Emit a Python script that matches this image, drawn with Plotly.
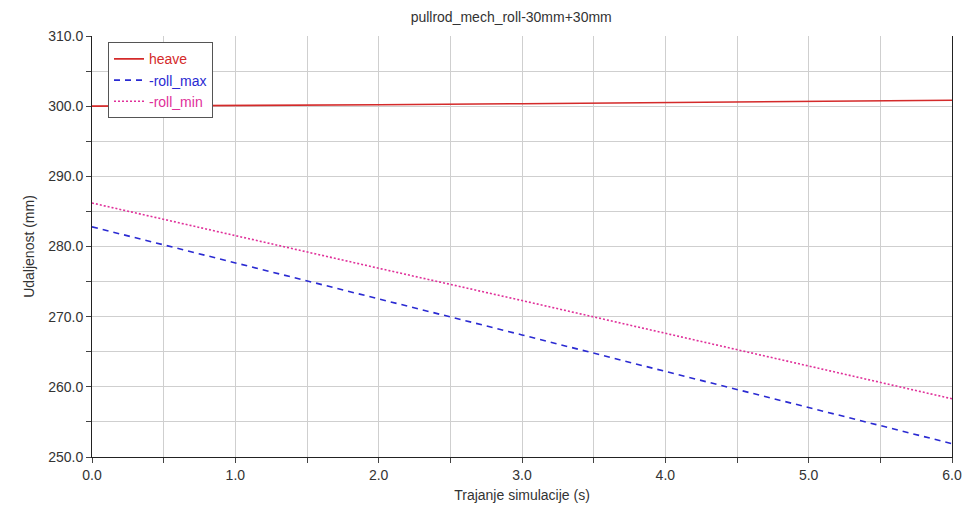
import plotly.graph_objects as go

time_s = [0.0, 1.0, 2.0, 3.0, 4.0, 5.0, 6.0]
heave = [300.0, 300.05, 300.2, 300.35, 300.5, 300.7, 300.85]
roll_max = [282.8, 277.7, 272.5, 267.4, 262.2, 257.0, 251.9]
roll_min = [286.2, 281.5, 276.9, 272.3, 267.6, 263.0, 258.3]

title = "pullrod_mech_roll-30mm+30mm"
x_title = "Trajanje simulacije (s)"
y_title = "Udaljenost (mm)"

c_heave = "#d42a2a"
c_max = "#2a2ad2"
c_min = "#e0309a"

fig = go.Figure()
fig.add_trace(go.Scatter(x=time_s, y=heave, mode="lines",
                         name=f"<span style='color:{c_heave}'>heave</span>",
                         line=dict(color=c_heave, width=1.6)))
fig.add_trace(go.Scatter(x=time_s, y=roll_max, mode="lines",
                         name=f"<span style='color:{c_max}'>-roll_max</span>",
                         line=dict(color=c_max, width=1.6, dash="6px,5px")))
fig.add_trace(go.Scatter(x=time_s, y=roll_min, mode="lines",
                         name=f"<span style='color:{c_min}'>-roll_min</span>",
                         line=dict(color=c_min, width=1.6, dash="2px,2px")))

grid = "#cfcfcf"
font = "Liberation Sans, Arial, sans-serif"
fig.update_layout(
    width=964, height=507,
    margin=dict(l=84, r=20, t=28, b=58, autoexpand=False),
    paper_bgcolor="white", plot_bgcolor="white",
    font=dict(family=font, size=14, color="#333333"),
    title=dict(text=title, x=0.522, xanchor="center", y=0.982, yanchor="middle",
               font=dict(size=14, color="#333333")),
    showlegend=True,
    legend=dict(x=0.0186, y=0.985, xanchor="left", yanchor="top",
                bgcolor="white", bordercolor="#555555", borderwidth=1,
                font=dict(size=14), tracegroupgap=0, itemwidth=30),
    xaxis=dict(range=[0, 6], dtick=1, tick0=0, tickformat=".1f", automargin=False,
               showgrid=True, gridcolor=grid, gridwidth=1,
               showline=True, linecolor="#222222", linewidth=1,
               ticks="outside", ticklen=5, tickcolor="#444444",
               zeroline=False,
               minor=dict(dtick=0.5, showgrid=True, gridcolor=grid,
                          ticks="outside", ticklen=5, tickcolor="#444444"),
               title=dict(text=x_title, standoff=8, font=dict(size=14))),
    yaxis=dict(range=[250, 310], dtick=10, tick0=250, tickformat=".1f", automargin=False,
               showgrid=True, gridcolor=grid, gridwidth=1,
               showline=True, linecolor="#222222", linewidth=1, mirror=True,
               ticks="outside", ticklen=5, tickcolor="#444444",
               zeroline=False,
               minor=dict(dtick=5, showgrid=True, gridcolor=grid,
                          ticks="outside", ticklen=5, tickcolor="#444444"),
               title=dict(text=y_title, standoff=10, font=dict(size=14))),
)

fig.write_html("out.html")
